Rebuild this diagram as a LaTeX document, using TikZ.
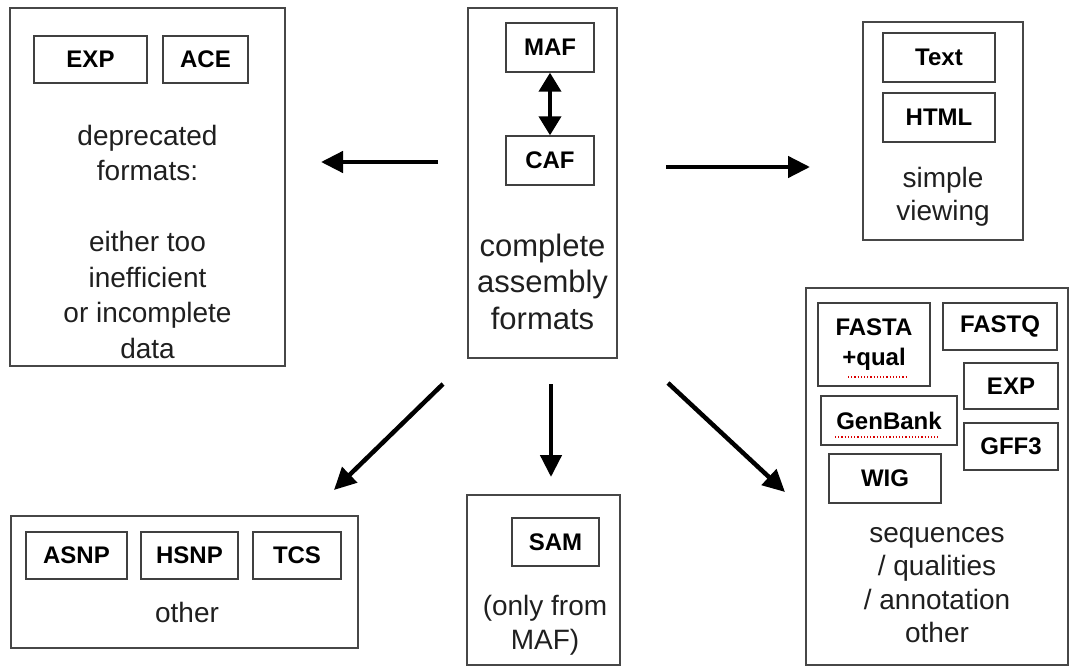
\documentclass[tikz,border=0pt]{standalone}
\usepackage{fontspec}
\setmainfont{Liberation Sans}
\usetikzlibrary{arrows.meta}
\begin{document}
\begin{tikzpicture}[x=1pt,y=-1pt,
  panel/.style={draw=black!72, line width=1.6pt, inner sep=0pt},
  fmt/.style={draw=black!75, line width=1.4pt, inner sep=0pt, align=center,
    font=\fontsize{24}{30}\selectfont\bfseries},
  cap/.style={align=center, text=black!88, inner sep=0pt,
    font=\fontsize{28}{#1}\selectfont},
  bigcap/.style={align=center, text=black!88, inner sep=0pt,
    font=\fontsize{31}{#1}\selectfont},
  arr/.style={line width=4.5pt, -{Triangle[length=22pt,width=21pt]}},
  squig/.style={red!85!black, line width=1.2pt, dotted}
]
\useasboundingbox (0,0) rectangle (1074,666);

% deprecated formats
\node[panel, minimum width=275pt, minimum height=358pt] (dep) at (147.5,187) {};
\node[fmt, minimum width=113pt, minimum height=47pt] (dexp) at (90.5,59.5) {EXP};
\node[fmt, minimum width=85pt, minimum height=47pt] (dace) at (205.5,59.5) {ACE};
\node[cap=35.5] (depcap) at (147.5,241.5)
  {deprecated\\formats:\\[35.5pt]either too\\inefficient\\or incomplete\\data};

% complete assembly formats
\node[panel, minimum width=149pt, minimum height=350pt] (cmp) at (542.5,183) {};
\node[fmt, minimum width=88pt, minimum height=49pt] (maf) at (550,47.5) {MAF};
\node[fmt, minimum width=88pt, minimum height=49pt] (caf) at (550,160.5) {CAF};
\node[bigcap=36.5] (cmpcap) at (542.5,281.5) {complete\\assembly\\formats};
\draw[line width=4pt, {Triangle[length=19pt,width=22pt]}-{Triangle[length=19pt,width=22pt]}]
  (maf) -- (caf);

% simple viewing
\node[panel, minimum width=160pt, minimum height=218pt] (view) at (943,131) {};
\node[fmt, minimum width=112pt, minimum height=49pt] (txt) at (939,57.5) {Text};
\node[fmt, minimum width=112pt, minimum height=49pt] (html) at (939,117.5) {HTML};
\node[cap=33] (viewcap) at (943,196.5) {simple\\viewing};

% other
\node[panel, minimum width=347pt, minimum height=132pt] (oth) at (184.5,582) {};
\node[fmt, minimum width=101pt, minimum height=47pt] (asnp) at (76.5,555.5) {ASNP};
\node[fmt, minimum width=97pt, minimum height=47pt] (hsnp) at (189.5,555.5) {HSNP};
\node[fmt, minimum width=88pt, minimum height=47pt] (tcs) at (297,555.5) {TCS};
\node[cap=33] (othcap) at (187,612) {other};

% SAM
\node[panel, minimum width=153pt, minimum height=170pt] (sam) at (543.5,580) {};
\node[fmt, minimum width=87pt, minimum height=48pt] (samf) at (555.5,542) {SAM};
\node[cap=34] (samcap) at (545,625) {(only from\\MAF)};

% sequences / qualities / annotation
\node[panel, minimum width=262pt, minimum height=377pt] (seq) at (937,476.5) {};
\node[fmt, minimum width=112pt, minimum height=83pt] (fasta) at (874,344.5) {FASTA\\+qual};
\node[fmt, minimum width=114pt, minimum height=47pt] (fastq) at (1000,326.5) {FASTQ};
\node[fmt, minimum width=94pt, minimum height=46pt] (sexp) at (1011,386) {EXP};
\node[fmt, minimum width=136pt, minimum height=49pt] (gb) at (889,420.5) {GenBank};
\node[fmt, minimum width=94pt, minimum height=47pt] (gff) at (1011,446.5) {GFF3};
\node[fmt, minimum width=112pt, minimum height=49pt] (wig) at (885,478.5) {WIG};
\node[cap=33.3] (seqcap) at (937,585) {sequences\\/ qualities\\/ annotation\\other};
\draw[squig] (848,377) -- (907,377);
\draw[squig] (835,437) -- (938,437);

% conversions out of the assembly formats
\coordinate (lt) at (438,162);  \coordinate (lh) at (321,162);
\coordinate (rt) at (666,167);  \coordinate (rh) at (810,167);
\coordinate (dlt) at (443,384); \coordinate (dlh) at (334,490);
\coordinate (dt) at (551,384);  \coordinate (dh) at (551,477);
\coordinate (drt) at (668,383); \coordinate (drh) at (785,492);
\draw[arr] (lt) -- (lh);
\draw[arr] (rt) -- (rh);
\draw[arr] (dlt) -- (dlh);
\draw[arr] (dt) -- (dh);
\draw[arr] (drt) -- (drh);
\end{tikzpicture}
\end{document}
